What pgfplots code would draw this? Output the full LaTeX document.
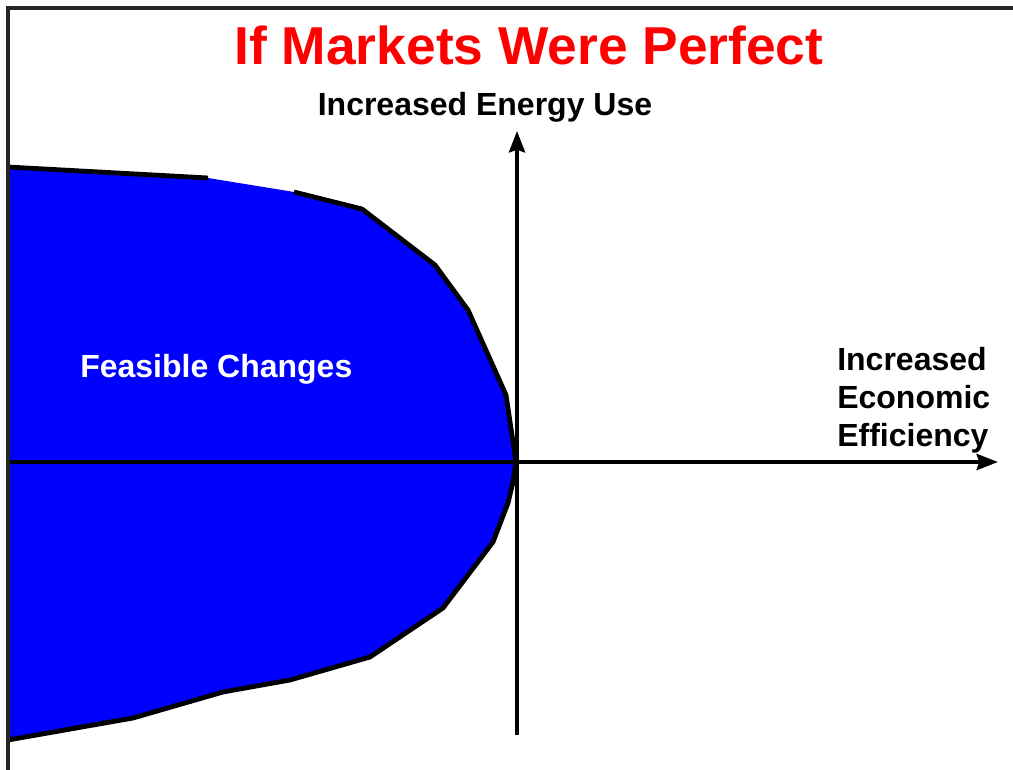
\documentclass[border=0pt]{standalone}
\usepackage{pgfplots}
\pgfplotsset{compat=1.18}
\usepackage{fontspec}
\setmainfont{Liberation Sans}
\usetikzlibrary{arrows.meta}
\definecolor{fillblue}{RGB}{0,0,255}
\definecolor{titlered}{RGB}{255,0,0}
\begin{document}
\begin{tikzpicture}
\begin{axis}[
  scale only axis, width=759.75pt, height=577.5pt,
  xmin=0, xmax=1013, ymin=0, ymax=770, y dir=reverse,
  hide axis, clip=false,
]
% feasible region
\addplot[fill=fillblue, draw=none] coordinates {
 (8,167) (208,178) (294,192) (362,209) (435,265) (468,310) (506,395) (516,462)
 (513,482) (508,503) (493,542) (443,608) (370,657) (290,680) (223,692) (133,718) (8,740)
} -- cycle;
% boundary strokes
\addplot[black, line width=3.6pt] coordinates {(8,167) (208,178)};
\addplot[black, line width=3.6pt, line join=round] coordinates {
 (294,192) (362,209) (435,265) (468,310) (506,395) (516,462)
 (513,482) (508,503) (493,542) (443,608) (370,657) (290,680) (223,692) (133,718) (8,740)
};
% axes arrows
\addplot[black, line width=3pt, -{Stealth[length=16pt,width=12pt,inset=2pt]}] coordinates {(8,462) (998,462)};
\addplot[black, line width=3pt, -{Stealth[length=16pt,width=12pt,inset=2pt]}] coordinates {(517,735) (517,131)};
% frame
\addplot[black!85, line width=2.6pt] coordinates {(8,770) (8,8) (1013,8)};
% texts
\node[anchor=base, text=titlered, font=\bfseries\fontsize{40}{44}\selectfont] at (axis cs:529,65) {If Markets Were Perfect};
\node[anchor=base, font=\bfseries\fontsize{24}{28}\selectfont] at (axis cs:485,116) {Increased Energy Use};
\node[anchor=base west, inner sep=0pt, align=left, font=\bfseries\fontsize{24}{28.5}\selectfont] at (axis cs:837,446) {Increased\\Economic\\Efficiency};
\node[anchor=base west, inner sep=0pt, text=white, font=\bfseries\fontsize{24}{28}\selectfont] at (axis cs:80,377) {Feasible Changes};
\end{axis}
\pgfresetboundingbox
\path (0,0) rectangle (759.75pt,577.5pt);
\end{tikzpicture}
\end{document}
